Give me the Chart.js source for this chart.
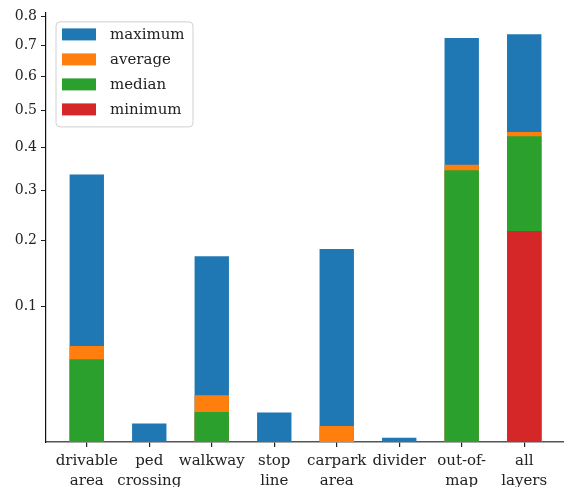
<!DOCTYPE html>
<html>
<head>
<meta charset="utf-8">
<script src="https://cdn.jsdelivr.net/npm/chart.js@4"></script>
<style>
body { margin: 0; overflow: hidden; background: #fff; }
#wrap { width: 570px; height: 487px; }
</style>
</head>
<body>
<div id="wrap"><canvas id="chart" width="570" height="487"></canvas></div>
<script>
const categories = [["drivable", "area"], ["ped", "crossing"], "walkway", ["stop", "line"], ["carpark", "area"], "divider", ["out-of-", "map"], ["all", "layers"]]
const maximum = [0.335, 0.0068, 0.173, 0.0109, 0.185, 0.0029, 0.724, 0.737]
const average = [0.056, 0, 0.0192, 0, 0.006, 0, 0.358, 0.440]
const median = [0.0442, 0, 0.0111, 0, 0, 0, 0.345, 0.429]
const minimum = [0, 0, 0, 0, 0, 0, 0, 0.217]
const yTicks = [0.1, 0.2, 0.3, 0.4, 0.5, 0.6, 0.7, 0.8]
const yTickLabels = ["0.1", "0.2", "0.3", "0.4", "0.5", "0.6", "0.7", "0.8"]

const FONT = "'DejaVu Serif', serif"

// y axis is a square-root scale, so values go through sqrt before plotting
function points(values) {
    return values.map((v, i) => ({x: i, y: Math.sqrt(v)}))
}

function dataset(label, values, color, order) {
    return {
        label: label,
        data: points(values),
        backgroundColor: color,
        borderWidth: 0,
        clip: 0,
        order: order
    }
}

// matplotlib style legend box inside the axes
const boxLegend = {
    id: "boxLegend",
    afterDraw(chart) {
        const ctx = chart.ctx
        const area = chart.chartArea
        const x0 = area.left + 10, y0 = area.top + 9.5
        const w = 137, h = 105
        ctx.save()
        ctx.beginPath()
        ctx.roundRect(x0, y0, w, h, 4)
        ctx.fillStyle = "rgba(255,255,255,0.8)"
        ctx.fill()
        ctx.strokeStyle = "#d0d0d0"
        ctx.lineWidth = 1
        ctx.stroke()
        ctx.font = "15px " + FONT
        ctx.textBaseline = "middle"
        chart.data.datasets.forEach((ds, i) => {
            const cy = y0 + 12.5 + i * 25
            ctx.fillStyle = ds.backgroundColor
            ctx.fillRect(x0 + 6, cy - 6, 34, 12)
            ctx.fillStyle = "#222"
            ctx.fillText(ds.label, x0 + 54, cy + 1)
        })
        ctx.restore()
    }
}

new Chart(document.getElementById("chart"), {
    type: "bar",
    data: {
        datasets: [
            dataset("maximum", maximum, "#1f77b4", 4),
            dataset("average", average, "#ff7f0e", 3),
            dataset("median", median, "#2ca02c", 2),
            dataset("minimum", minimum, "#d62728", 1)
        ]
    },
    plugins: [boxLegend],
    options: {
        responsive: false,
        animation: false,
        devicePixelRatio: 1,
        events: [],
        layout: {padding: {top: 12, right: 5, left: 0, bottom: 0}},
        datasets: {
            bar: {grouped: false, barPercentage: 0.55, categoryPercentage: 1}
        },
        plugins: {
            legend: {display: false},
            tooltip: {enabled: false}
        },
        scales: {
            x: {
                type: "linear",
                min: -0.6525,
                max: 7.6525,
                offset: false,
                afterBuildTicks: (scale) => {
                    scale.ticks = categories.map((c, i) => ({value: i}))
                },
                afterFit: (scale) => { scale.height = 45 },
                ticks: {
                    autoSkip: false,
                    maxRotation: 0,
                    padding: 4,
                    color: "#222",
                    font: {family: FONT, size: 15, lineHeight: 1.33},
                    callback: (value, index) => categories[index]
                },
                grid: {offset: false, display: true, drawOnChartArea: false, drawTicks: true, tickLength: 5, color: "#222", lineWidth: 1.2},
                border: {display: true, color: "#555", width: 1.5}
            },
            y: {
                type: "linear",
                min: 0.0454,
                max: 0.9018,
                afterBuildTicks: (scale) => {
                    scale.ticks = yTicks.map(v => ({value: Math.sqrt(v)}))
                },
                afterFit: (scale) => { scale.width = 46 },
                ticks: {
                    padding: 4,
                    color: "#222",
                    font: {family: FONT, size: 14},
                    callback: (value, index) => yTickLabels[index]
                },
                grid: {drawOnChartArea: false, drawTicks: true, tickLength: 5, color: "#222"},
                border: {display: true, color: "#111", width: 1.2}
            }
        }
    }
})
</script>
</body>
</html>
